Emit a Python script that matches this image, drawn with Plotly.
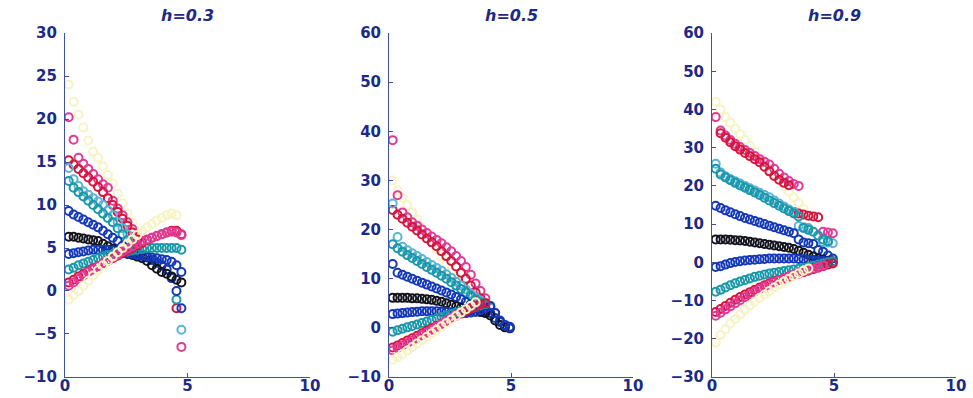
import plotly.graph_objects as go

# shared abscissa grid (sample positions)
X = [0.15, 0.35, 0.55, 0.75, 0.95, 1.15, 1.35, 1.55, 1.75, 1.95, 2.15, 2.35,
     2.55, 2.75, 2.95, 3.15, 3.35, 3.55, 3.75, 3.95, 4.15, 4.35, 4.55, 4.75, 4.95]

N = None
COLORS = ["#f7f3c4", "#e23a96", "#d4163c", "#5ab4d6", "#1898a8", "#1438b8",
          "#14141e", "#1438b8", "#1898a8", "#d4163c", "#e23a96", "#f7f3c4"]

# h = 0.3
P1 = [
    [24, 22, 20.5, 19, 17.5, 16.2, 15.5, 14.5, 13.5, 12.5, 11.3, 10.2, 9, 8, 7, N, N, N, N, N, N, N, N, N, N],
    [20.2, 17.6, 15.5, 14.8, 14.2, 13.6, 13.0, 12.4, 12.0, 10.5, 9.6, 8.8, 8.0, 7.2, 6.4, N, N, N, N, N, N, N, N, -6.5, N],
    [15.2, 14.7, 14.2, 13.7, 13.2, 12.7, 12.1, 11.5, 10.8, 10.0, 9.2, 8.4, 7.6, 6.8, 6.0, N, N, N, N, N, N, N, -2.0, N, N],
    [14.3, 13.0, 12.2, 11.6, 11.2, 10.8, 10.4, 10.0, 9.4, 8.8, 8.0, 7.3, 6.6, 5.9, 5.3, N, N, N, N, N, N, N, N, -4.5, N],
    [12.8, 12.0, 11.5, 11.0, 10.5, 10.0, 9.5, 9.0, 8.5, 8.0, 7.3, 6.6, 5.9, 5.2, 4.8, N, N, N, N, N, N, N, -1.0, N, N],
    [9.3, 8.9, 8.6, 8.3, 8.0, 7.7, 7.4, 7.0, 6.6, 6.2, 5.8, 5.3, 4.8, 4.5, 4.3, 4.1, 3.9, 3.6, 3.3, 3.0, 2.5, 1.5, 0.0, -2.0, N],
    [6.3, 6.3, 6.2, 6.1, 6.0, 5.9, 5.8, 5.5, 5.2, 4.9, 4.6, 4.4, 4.3, 4.2, 4.0, 3.8, 3.5, 3.0, 2.6, 2.2, 2.0, 1.7, 1.3, 1.0, N],
    [4.3, 4.4, 4.5, 4.6, 4.7, 4.8, 4.8, 4.8, 4.8, 4.7, 4.6, 4.5, 4.4, 4.3, 4.2, 4.1, 4.0, 3.9, 3.8, 3.7, 3.6, 3.4, 3.0, 2.2, N],
    [2.5, 2.7, 3.0, 3.2, 3.4, 3.6, 3.8, 4.0, 4.2, 4.3, 4.4, 4.5, 4.6, 4.7, 4.8, 4.9, 5.0, 5.0, 5.0, 5.0, 5.0, 5.0, 5.0, 4.8, N],
    [1.0, 1.3, 1.7, 2.0, 2.3, 2.6, 2.9, 3.2, 3.5, 3.8, 4.1, 4.4, 4.7, 5.0, 5.3, 5.6, 5.9, 6.2, 6.4, 6.6, 6.8, 7.0, 7.0, 6.6, N],
    [0.6, 1.0, 1.4, 1.8, 2.2, 2.5, 2.9, 3.2, 3.6, 3.9, 4.2, 4.6, 4.9, 5.2, 5.5, 5.8, 6.0, 6.2, 6.4, 6.6, 6.8, 6.9, 6.8, 6.5, N],
    [-1, -0.5, 0, 0.6, 1.2, 1.8, 2.4, 3.0, 3.5, 4.0, 4.5, 5.0, 5.5, 6.0, 6.5, 7.0, 7.4, 7.8, 8.2, 8.5, 8.8, 9.0, 8.8, N, N],
]

# h = 0.5
P2 = [
    [30, 28, 26.5, 25, 23.5, 22, 20.5, 19, 17.5, 16, 14.5, 13, 11.5, 10, 8.5, 7, 5.5, N, N, N, N, N, N, N, N],
    [38.2, 27, 23.5, 22.5, 21.5, 20.8, 20, 19.3, 18.6, 17.9, 17.2, 16.4, 15.6, 14.6, 13.6, 12.4, 10.8, 9.0, 7.5, 6, 4.5, 3, N, N, N],
    [24, 23, 22.2, 21.4, 20.6, 19.8, 19, 18.2, 17.4, 16.6, 15.6, 14.6, 13.6, 12.5, 11.2, 10, 8.6, 7.2, 6, 5, 4.2, N, N, N, N],
    [25.3, 18.5, 16.5, 15.8, 15.2, 14.6, 14.0, 13.4, 12.8, 12.2, 11.6, 10.9, 10.2, 9.4, 8.6, 7.8, 7.0, 6.2, 5.5, 4.8, 4.2, N, N, N, N],
    [17, 16.2, 15.5, 14.8, 14.2, 13.6, 13.0, 12.4, 11.8, 11.2, 10.6, 10.0, 9.3, 8.6, 7.9, 7.2, 6.5, 5.8, 5.2, 4.6, N, N, N, N, N],
    [13, 11.2, 10.8, 10.4, 10.0, 9.6, 9.2, 8.8, 8.4, 8.0, 7.6, 7.2, 6.8, 6.3, 5.8, 5.3, 4.8, 4.3, 3.8, 3.4, 3.0, 2.0, 1.2, 0.6, 0.2],
    [6.1, 6.1, 6.1, 6.1, 6.0, 6.0, 5.9, 5.8, 5.7, 5.5, 5.3, 5.0, 4.7, 4.4, 4.1, 3.8, 3.5, 3.3, 3.2, 3.0, 2.5, 1.5, 0.6, 0.1, -0.1],
    [2.8, 2.9, 3.0, 3.1, 3.2, 3.3, 3.4, 3.4, 3.4, 3.4, 3.3, 3.2, 3.1, 3.0, 3.0, 3.0, 3.1, 3.3, 3.6, 4.0, 4.4, 3.0, 1.5, 0.5, 0.0],
    [-0.8, -0.5, -0.2, 0.1, 0.4, 0.7, 1.0, 1.3, 1.6, 1.9, 2.2, 2.5, 2.8, 3.1, 3.4, 3.7, 4.0, 4.3, 4.6, 4.8, N, N, N, N, N],
    [-4.0, -3.6, -3.1, -2.6, -2.1, -1.6, -1.1, -0.6, -0.1, 0.4, 0.9, 1.4, 1.9, 2.4, 2.9, 3.4, 3.9, 4.4, 4.8, 5.0, N, N, N, N, N],
    [-4.6, -4.1, -3.6, -3.1, -2.6, -2.1, -1.5, -1.0, -0.4, 0.2, 0.8, 1.4, 2.0, 2.6, 3.2, 3.8, 4.4, 5.0, N, N, N, N, N, N, N],
    [-6.5, -6, -5.3, -4.6, -3.9, -3.2, -2.5, -1.8, -1.1, -0.4, 0.3, 1.0, 1.7, 2.4, 3.1, 3.8, 4.5, 5.2, N, N, N, N, N, N, N],
]

# h = 0.9
P3 = [
    [42, 40, 38, 36.5, 35, 33.5, 32, 30.5, 29, 27.5, 26, 24.5, 23, 21.5, 20, 18.5, 17, 15.5, 14, N, N, N, N, N, N],
    [38, 34.5, 33.2, 32, 31, 30.2, 29.4, 28.6, 27.8, 27, 26.3, 25.6, 24.5, 23.2, 22.2, 21.3, 20.5, 20.0, N, N, N, N, 8.0, 7.8, 7.6],
    [N, 33.8, 32.6, 31.4, 30.4, 29.5, 28.6, 27.8, 27.0, 26.2, 25.0, 23.8, 22.6, 21.6, 20.8, 20.2, 13.2, 12.8, 12.5, 12.2, 12.0, 11.8, N, N, N],
    [25.8, 23.5, 22.5, 21.8, 21.2, 20.6, 20.0, 19.4, 18.8, 18.2, 17.6, 17.0, 16.2, 15.4, 14.6, 13.8, 13.2, 9.5, 9.2, 9.0, N, N, 5.3, 5.2, 5.0],
    [24.5, 23.0, 22.2, 21.5, 20.8, 20.1, 19.5, 18.9, 18.3, 17.6, 16.9, 16.2, 15.5, 14.8, 14.1, 13.4, 12.8, 12.0, 9.0, 8.5, 8.0, 7.0, 6.0, 5.5, N],
    [14.8, 14.2, 13.6, 13.1, 12.6, 12.1, 11.6, 11.2, 10.8, 10.4, 10.0, 9.6, 9.2, 8.8, 8.4, 8.0, 7.6, 6.0, 5.2, 5.0, 4.8, 3.2, 2.8, 1.8, 1.0],
    [6.0, 6.0, 6.0, 5.9, 5.8, 5.7, 5.6, 5.4, 5.2, 5.0, 4.8, 4.6, 4.4, 4.2, 4.0, 3.8, 3.5, 3.0, 2.5, 2.0, 1.5, 1.0, 0.7, 0.4, 0.2],
    [-1.2, -1.0, -0.6, -0.2, 0.1, 0.3, 0.5, 0.6, 0.7, 0.8, 0.9, 1.0, 1.0, 1.0, 1.0, 1.0, 1.0, 0.9, 0.8, 0.7, 0.6, 0.5, 0.4, 0.3, 0.2],
    [-7.7, -7.2, -6.6, -6.0, -5.5, -5.0, -4.6, -4.2, -3.8, -3.5, -3.2, -2.9, -2.7, -2.5, -2.3, -2.1, -1.9, -1.7, -1.5, -1.2, -0.9, -0.6, -0.3, 0.0, 0.2],
    [-13.0, -12.2, -11.4, -10.6, -9.8, -9.1, -8.4, -7.8, -7.2, -6.6, -6.0, -5.5, -5.0, -4.6, -4.2, -3.8, -3.4, -3.0, -2.6, -2.2, -1.8, -1.4, -1.0, -0.6, -0.3],
    [-14.0, -13.2, -12.3, -11.5, -10.7, -9.9, -9.1, -8.4, -7.7, -7.0, -6.4, -5.8, -5.2, -4.7, -4.2, -3.7, -3.2, -2.8, -2.4, -2.0, -1.6, -1.2, -0.8, N, N],
    [-21, -19, -17.5, -16, -14.8, -13.6, -12.4, -11.3, -10.3, -9.3, -8.4, -7.5, -6.6, -5.8, -5.0, -4.3, -3.6, -2.9, -2.2, -1.6, N, N, N, N, N],
]

TITLES = ["h=0.3", "h=0.5", "h=0.9"]
YRANGES = [[-10, 30], [-10, 60], [-30, 60]]
YDTICK = [5, 10, 10]
XTICKS = [0, 5, 10]

NAVY = "#1c2a86"
AXLINE = "#4050a8"
FONT = dict(family="DejaVu Sans", size=15, color=NAVY, weight="bold")

XDOM = [[0.0668, 0.3186], [0.3998, 0.6506], [0.7318, 0.9825]]
YDOM = [0.0528, 0.917]

fig = go.Figure()
panels = [P1, P2, P3]
for p, data in enumerate(panels):
    xa = "x" if p == 0 else f"x{p+1}"
    ya = "y" if p == 0 else f"y{p+1}"
    for s, ys in enumerate(data):
        fig.add_trace(go.Scatter(
            x=X, y=ys, mode="markers", xaxis=xa, yaxis=ya,
            marker=dict(symbol="circle-open", size=8,
                        color=COLORS[s], line=dict(width=2, color=COLORS[s])),
            showlegend=False, hoverinfo="skip"))

layout = dict(
    width=973, height=398, margin=dict(l=0, r=0, t=0, b=0),
    paper_bgcolor="white", plot_bgcolor="white", showlegend=False,
)
annotations = []
for p in range(3):
    sx = "" if p == 0 else str(p + 1)
    layout["xaxis" + sx] = dict(
        domain=XDOM[p], range=[0, 10], tickvals=XTICKS, ticks="inside", ticklen=4,
        tickcolor=AXLINE, showline=True, linecolor=AXLINE, linewidth=1,
        showgrid=False, zeroline=False, tickfont=FONT, anchor="y" + sx,
        ticklabelstandoff=-5, automargin=False)
    layout["yaxis" + sx] = dict(
        domain=YDOM, range=YRANGES[p], dtick=YDTICK[p], tick0=0, ticks="inside", ticklen=4,
        tickcolor=AXLINE, showline=True, linecolor=AXLINE, linewidth=1,
        showgrid=False, zeroline=False, tickfont=FONT, anchor="x" + sx,
        ticklabelstandoff=4, automargin=False)
    annotations.append(dict(
        text=TITLES[p], xref="paper", yref="paper",
        x=(XDOM[p][0] + XDOM[p][1]) / 2, y=0.962, showarrow=False,
        xanchor="center", yanchor="middle",
        font=dict(family="DejaVu Sans", size=16, color=NAVY, style="italic", weight="bold")))
layout["annotations"] = annotations
fig.update_layout(**layout)
fig.write_html("out.html", config={"displayModeBar": False},
               post_script="document.body.style.margin='0';document.body.style.padding='0';")
